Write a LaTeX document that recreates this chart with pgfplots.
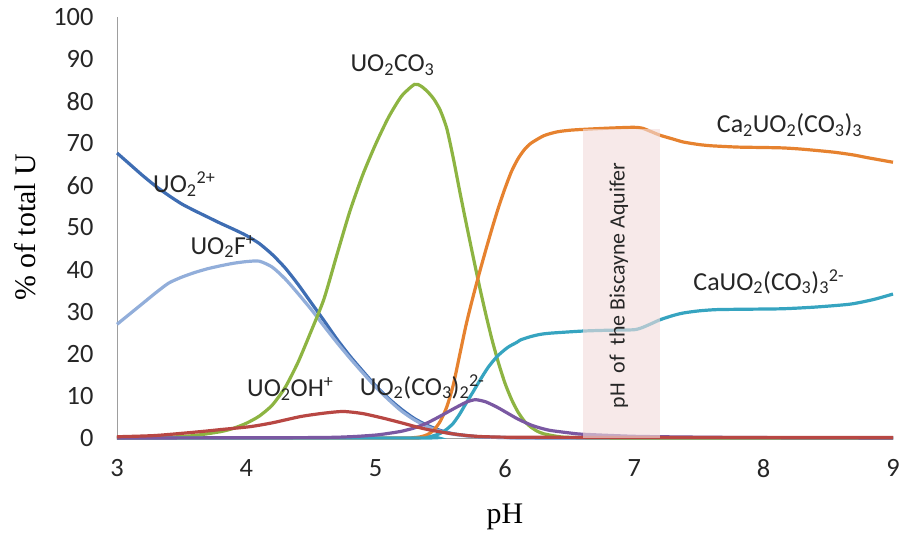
\documentclass[border=0pt]{standalone}
\usepackage{pgfplots}
\pgfplotsset{compat=1.18}
\usepackage{fontspec}
\setmainfont{Carlito}
\newfontfamily\tnr{Liberation Serif}
\definecolor{cdblue}{HTML}{3E6DB3}
\definecolor{clblue}{HTML}{92AEDA}
\definecolor{cgreen}{HTML}{8DB442}
\definecolor{corange}{HTML}{E6822F}
\definecolor{ccyan}{HTML}{36A4C0}
\definecolor{cpurple}{HTML}{7A58A2}
\definecolor{cred}{HTML}{B84743}
\definecolor{cband}{HTML}{F2DCDB}
\begin{document}
\begin{tikzpicture}
\begin{axis}[
  scale only axis, width=776bp, height=421bp,
  xmin=3, xmax=9, ymin=0, ymax=100,
  xtick={3,4,5,6,7,8,9}, ytick={0,10,...,100},
  axis x line=bottom, axis y line=left,
  axis line style={-, draw=black!38, line width=0.9bp},
  major tick length=0pt,
  clip=false,
  /pgf/number format/assume math mode=true,
  tick label style={font=\fontsize{26.5}{26.5}\selectfont, text=black!85},
  yticklabel style={xshift=-20bp},
  xticklabel style={yshift=-18bp},
  xlabel={\tnr pH}, ylabel={\tnr \% of total U},
  label style={font=\fontsize{30}{30}\selectfont},
  xlabel style={at={(axis description cs:0.5,-0.1876)}, anchor=center},
  ylabel style={at={(axis description cs:-0.1186,0.5)}, anchor=center},
  every axis plot/.append style={line width=3.2bp, smooth, tension=0.4},
]
% UO2 2+
\addplot[cdblue] coordinates {(3.0,67.7)(3.1,65.0)(3.2,62.3)(3.3,59.8)(3.4,57.6)(3.5,55.6)(3.6,54.0)(3.7,52.5)(3.8,51.0)(3.9,49.6)(4.0,48.1)(4.1,46.2)(4.2,43.6)(4.3,40.4)(4.4,36.5)(4.5,32.2)(4.6,27.9)(4.7,23.5)(4.8,19.5)(4.9,15.9)(5.0,12.4)(5.1,9.4)(5.2,6.8)(5.3,4.6)(5.4,3.0)(5.5,1.8)(5.6,1.0)(5.7,0.6)(5.8,0.3)(6.0,0.1)(6.5,0)(9,0)};
% UO2F+
\addplot[clblue] coordinates {(3.0,27.0)(3.1,29.5)(3.2,32.0)(3.3,34.5)(3.4,36.8)(3.5,38.2)(3.6,39.3)(3.7,40.2)(3.8,40.9)(3.9,41.5)(4.0,41.9)(4.1,42.0)(4.2,40.6)(4.3,37.8)(4.4,34.3)(4.5,30.6)(4.6,26.6)(4.7,22.7)(4.8,19.0)(4.9,15.5)(5.0,12.1)(5.1,9.1)(5.2,6.4)(5.3,4.3)(5.4,2.7)(5.5,1.6)(5.6,0.9)(5.7,0.5)(5.8,0.3)(6.0,0.1)(6.3,0)(9,0)};
% UO2CO3
\addplot[cgreen] coordinates {(3.0,0)(3.4,0.2)(3.6,0.6)(3.8,1.5)(3.9,2.3)(4.0,3.5)(4.1,5.2)(4.2,7.8)(4.3,12.0)(4.4,18.0)(4.5,25.3)(4.6,33.0)(4.7,43.5)(4.8,53.8)(4.9,62.5)(5.0,69.8)(5.1,76.2)(5.2,81.2)(5.3,84.0)(5.35,83.6)(5.4,82.3)(5.45,80.5)(5.5,77.8)(5.55,73.5)(5.6,66.5)(5.65,58.6)(5.7,51.0)(5.75,43.6)(5.8,36.4)(5.85,29.6)(5.9,23.3)(5.95,17.8)(6.0,13.0)(6.05,9.2)(6.1,6.2)(6.15,4.0)(6.2,2.6)(6.25,1.6)(6.3,1.0)(6.4,0.4)(6.5,0.15)(7,0)(9,0)};
% Ca2UO2(CO3)3
\addplot[corange] coordinates {(3,0)(5.2,0)(5.3,0.1)(5.35,0.3)(5.4,0.8)(5.45,1.9)(5.5,4.0)(5.55,7.4)(5.6,12.6)(5.65,19.8)(5.7,27.0)(5.75,33.2)(5.8,39.0)(5.85,44.5)(5.9,49.8)(5.95,54.8)(6.0,59.3)(6.05,63.3)(6.1,66.3)(6.15,68.5)(6.2,70.0)(6.3,71.8)(6.4,72.7)(6.5,73.1)(6.6,73.3)(6.8,73.6)(6.99,73.8)(7.06,73.6)(7.12,72.9)(7.2,71.9)(7.3,71.0)(7.38,70.3)(7.5,69.7)(7.6,69.4)(7.8,69.1)(8.0,69.0)(8.15,68.9)(8.3,68.6)(8.54,67.9)(8.7,67.2)(8.8,66.6)(9.0,65.5)};
% CaUO2(CO3)3 2-
\addplot[ccyan] coordinates {(3,0)(5.34,0)(5.42,0.3)(5.5,1.1)(5.55,2.1)(5.6,3.5)(5.65,5.7)(5.70,8.3)(5.75,10.8)(5.81,13.9)(5.87,16.8)(5.94,19.4)(6.02,21.5)(6.09,22.7)(6.12,23.3)(6.2,24.1)(6.27,24.6)(6.35,24.9)(6.6,25.4)(6.8,25.6)(6.99,25.7)(7.05,26.1)(7.12,27.0)(7.2,28.1)(7.3,29.1)(7.38,29.7)(7.5,30.2)(7.64,30.5)(7.9,30.6)(8.15,30.7)(8.4,31.1)(8.67,31.8)(8.85,32.9)(9.0,34.2)};
% UO2(CO3)2 2-
\addplot[cpurple] coordinates {(3,0)(4.5,0.1)(4.8,0.3)(5.0,0.7)(5.1,1.1)(5.2,1.6)(5.3,2.4)(5.4,3.6)(5.5,5.2)(5.6,6.9)(5.7,8.5)(5.77,9.1)(5.85,8.6)(5.94,7.3)(6.02,5.9)(6.1,4.5)(6.2,3.1)(6.27,2.4)(6.35,1.8)(6.5,1.2)(6.6,0.9)(7,0.4)(7.5,0.2)(8,0.1)(9,0)};
% UO2OH+
\addplot[cred] coordinates {(3,0.3)(3.3,0.6)(3.64,1.5)(3.8,2.0)(4.03,2.7)(4.2,3.6)(4.42,5.1)(4.6,5.9)(4.75,6.3)(4.9,5.8)(5.06,4.7)(5.2,3.6)(5.32,2.6)(5.42,1.9)(5.57,1.1)(5.7,0.6)(5.81,0.35)(6.0,0.2)(6.5,0.15)(7,0.1)(9,0.1)};
% band
\addplot[draw=none, fill=cband, fill opacity=0.62, line width=0pt, sharp plot] coordinates {(6.6,0)(6.6,73.3)(7.2,73.3)(7.2,0)} -- cycle;
\node[rotate=90, font=\fontsize{22}{22}\selectfont, text=black!85] at (axis cs:6.88,36.2) {pH\ \ of\ \ the Biscayne Aquifer};
% labels
\begin{scope}[every node/.style={font=\fontsize{26}{26}\selectfont, text=black!85, inner sep=0pt}]
\node at (axis cs:3.52,60.3) {UO\textsubscript{2}\textsuperscript{2+}};
\node at (axis cs:3.82,45.5) {UO\textsubscript{2}F\textsuperscript{+}};
\node at (axis cs:5.13,88.5) {UO\textsubscript{2}CO\textsubscript{3}};
\node at (axis cs:8.2,74.4) {Ca\textsubscript{2}UO\textsubscript{2}(CO\textsubscript{3})\textsubscript{3}};
\node at (axis cs:8.04,37.1) {CaUO\textsubscript{2}(CO\textsubscript{3})\textsubscript{3}\textsuperscript{2-}};
\node at (axis cs:4.34,11.7) {UO\textsubscript{2}OH\textsuperscript{+}};
\node at (axis cs:5.36,12.2) {UO\textsubscript{2}(CO\textsubscript{3})\textsubscript{2}\textsuperscript{2-}};
\end{scope}
\end{axis}
\pgfresetboundingbox
\path[use as bounding box] (current axis.south west) ++(-117bp,-95bp) rectangle ([shift={(10bp,17bp)}]current axis.north east);
\end{tikzpicture}
\end{document}
